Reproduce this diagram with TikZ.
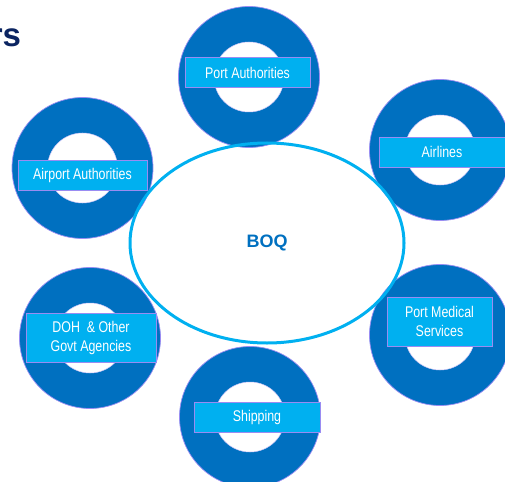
\documentclass[tikz,border=0pt]{standalone}
\usepackage{fontspec}
\setmainfont{Liberation Sans}
\newfontfamily\narrowfont[FakeStretch=0.8]{Liberation Sans}
\usetikzlibrary{shapes.geometric}
\definecolor{ringblue}{HTML}{0070C0}
\definecolor{tagblue}{HTML}{00B0F0}
\definecolor{rimpurple}{HTML}{9A8CF2}
\definecolor{titlenavy}{HTML}{0B2461}
\tikzstyle{ring}=[circle, fill=ringblue, draw=rimpurple, line width=0.7pt, inner sep=0pt, outer sep=0pt, minimum size=141pt]
\tikzstyle{hole}=[circle, fill=white, draw=rimpurple!50, line width=0.5pt, inner sep=0pt, outer sep=0pt, minimum size=70pt]
\tikzstyle{party}=[rectangle, fill=tagblue, draw=rimpurple, line width=0.8pt, text=white, align=center, inner sep=0pt, minimum height=30pt, font=\narrowfont\fontsize{15.5}{19}\selectfont]
\tikzstyle{hub}=[ellipse, draw=tagblue, line width=3pt, inner sep=0pt, minimum width=274pt, minimum height=200pt, text=ringblue, font=\bfseries\fontsize{18}{20}\selectfont]
\pgfdeclarelayer{ringlayer}
\pgfdeclarelayer{taglayer}
\pgfsetlayers{ringlayer,main,taglayer}
\begin{document}
\begin{tikzpicture}[x=1pt, y=-1pt]
	\useasboundingbox (0, 0) rectangle (505, 481);
	\node [anchor=base east, text=titlenavy, font=\bfseries\fontsize{33}{36}\selectfont] (t) at (24.5, 47) {rs};
	\begin{pgfonlayer}{ringlayer}
		\node [style=ring] (0) at (249, 77) {};
		\node [style=ring] (1) at (82.5, 168) {};
		\node [style=ring] (2) at (440, 150) {};
		\node [style=ring] (3) at (440, 335) {};
		\node [style=ring] (4) at (90, 338) {};
		\node [style=ring] (5) at (250, 417) {};
		\foreach \n in {0,...,5}
			\node [style=hole] (h\n) at (\n) {};
	\end{pgfonlayer}
	\node [style=hub] (6) at (267, 243) {BOQ};
	\begin{pgfonlayer}{taglayer}
		\node [style=party, minimum width=125pt] (t0) at (247.5, 72.5) {Port Authorities};
		\node [style=party, minimum width=129pt] (t1) at (82.5, 175.5) {Airport Authorities};
		\node [style=party, minimum width=126pt] (t2) at (442, 152) {Airlines};
		\node [style=party, minimum width=105pt, minimum height=49pt] (t3) at (439.5, 321.5) {Port Medical\\Services};
		\node [style=party, minimum width=130pt, minimum height=49pt] (t4) at (91, 337.5) {DOH\ \ \& Other\\Govt Agencies};
		\node [style=party, minimum width=126pt] (t5) at (257, 417) {Shipping};
	\end{pgfonlayer}
\end{tikzpicture}
\end{document}
